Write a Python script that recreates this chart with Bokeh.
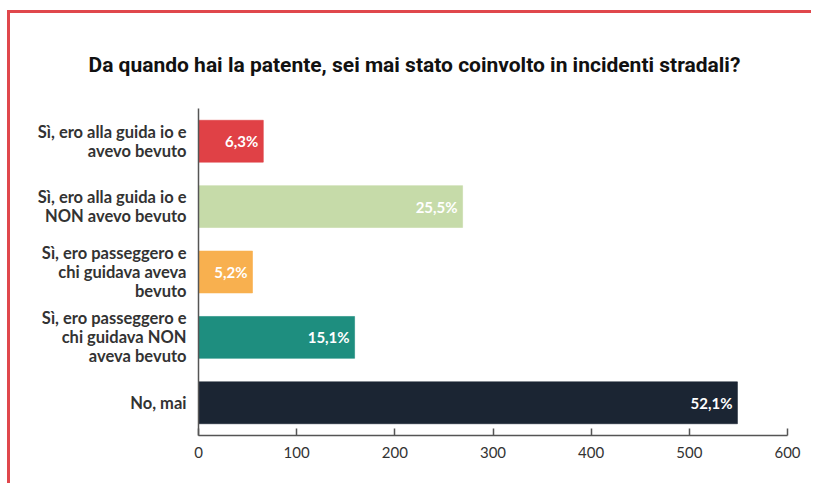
from bokeh.plotting import figure
from bokeh.models import ColumnDataSource, FactorRange, Range1d, FixedTicker, Title
from bokeh.core.properties import value
from bokeh.embed import file_html
from bokeh.resources import INLINE

categories = [
    "Sì, ero alla guida io e\navevo bevuto",
    "Sì, ero alla guida io e\nNON avevo bevuto",
    "Sì, ero passeggero e\nchi guidava aveva\nbevuto",
    "Sì, ero passeggero e\nchi guidava NON\naveva bevuto",
    "No, mai",
]
counts = [66, 269, 55, 159, 549]
pct_labels = ["6,3%", "25,5%", "5,2%", "15,1%", "52,1%"]
colors = ["#e04146", "#c6dba9", "#f8b04f", "#1e8e7f", "#1b2533"]
x_ticks = [0, 100, 200, 300, 400, 500, 600]

src = ColumnDataSource(dict(cat=categories, n=counts, lab=pct_labels, col=colors))

p = figure(
    width=804, height=473,
    y_range=FactorRange(*reversed(categories), range_padding=0),
    x_range=Range1d(0, 600),
    output_backend="svg", toolbar_location=None,
    min_border_left=188, min_border_right=27, min_border_bottom=51, min_border_top=95,
)
p.styles = {"border-top": "3px solid #e0474c", "border-left": "3px solid #e0474c",
            "margin-left": "7px", "margin-top": "10px"}
p.outline_line_color = None
p.background_fill_color = "white"
p.border_fill_color = "white"

t = Title(text="Da quando hai la patente, sei mai stato coinvolto in incidenti stradali?",
          align="left", text_font="Roboto",
          text_font_size="21px", text_font_style="bold", text_color="#111111",
          offset=-110, standoff=64)
p.add_layout(t, "above")

p.hbar(y="cat", right="n", left=0, height=0.64, fill_color="col",
       line_color="col", line_alpha=0.6, source=src)
p.text(x="n", y="cat", text="lab", source=src, x_offset=-5,
       text_align="right", text_baseline="middle", text_color="white",
       text_font=value("Lato"), text_font_style="bold", text_font_size="15px")

p.xgrid.grid_line_color = None
p.ygrid.grid_line_color = None

xa = p.xaxis[0]
xa.ticker = FixedTicker(ticks=x_ticks)
xa.minor_tick_line_color = None
xa.major_tick_in = 7
xa.major_tick_out = 0
xa.axis_line_color = "#555555"
xa.axis_line_width = 1.5
xa.major_tick_line_color = "#555555"
xa.major_tick_line_width = 1.5
xa.major_label_text_font = "Lato"
xa.major_label_text_font_size = "15px"
xa.major_label_text_color = "#333333"
xa.major_label_standoff = 11

ya = p.yaxis[0]
ya.major_tick_line_color = None
ya.minor_tick_line_color = None
ya.axis_line_color = "#555555"
ya.axis_line_width = 1.5
ya.major_label_text_font = "Lato"
ya.major_label_text_font_style = "bold"
ya.major_label_text_font_size = "16.5px"
ya.major_label_text_color = "#333333"
ya.major_label_text_line_height = 0.95
ya.major_label_standoff = 6

open("out.html", "w").write(file_html(p, INLINE))
